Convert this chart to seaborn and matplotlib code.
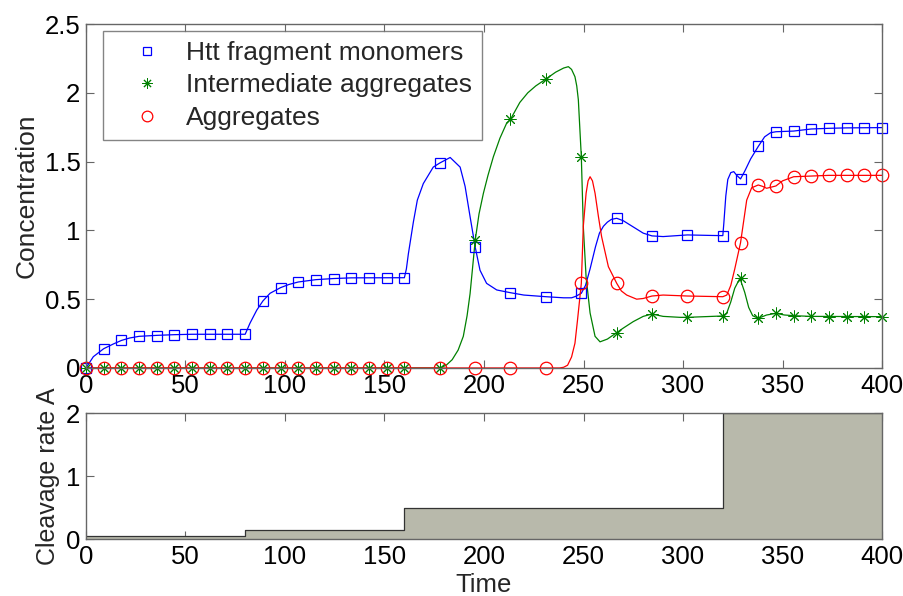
import numpy as np
import matplotlib
matplotlib.use("Agg")
import matplotlib.pyplot as plt
import seaborn as sns

# --- marker samples (solver output points) ---
t_marks = [0, 8.9, 17.8, 26.7, 35.6, 44.4, 53.3, 62.2, 71.1, 80,
           88.9, 97.8, 106.7, 115.6, 124.4, 133.3, 142.2, 151.1, 160,
           177.8, 195.6, 213.3, 231.1, 248.9, 266.7, 284.4, 302.2, 320,
           328.9, 337.8, 346.7, 355.6, 364.4, 373.3, 382.2, 391.1, 400]
mono_marks = [0.0, 0.14, 0.20, 0.23, 0.235, 0.24, 0.245, 0.245, 0.245, 0.245,
              0.487, 0.584, 0.625, 0.642, 0.65, 0.655, 0.656, 0.656, 0.656,
              1.49, 0.877, 0.547, 0.518, 0.543, 1.088, 0.96, 0.967, 0.962,
              1.374, 1.61, 1.717, 1.722, 1.737, 1.742, 1.745, 1.747, 1.747]
inter_marks = [0] * 20 + [0.93, 1.807, 2.10, 1.535, 0.257, 0.392, 0.368, 0.378,
                          0.652, 0.361, 0.397, 0.38, 0.375, 0.373, 0.373, 0.373, 0.373]
aggr_marks = [0] * 23 + [0.615, 0.615, 0.523, 0.523, 0.518,
                         0.91, 1.33, 1.323, 1.39, 1.395, 1.40, 1.40, 1.40, 1.40]

# --- smooth curves ---
mono_t = [0, 3.7, 8.9, 13.7, 17.8, 22, 26.7, 35.6, 44.4, 53.3, 80, 82.4, 85.8, 88.9, 92.5,
          97.8, 102, 106.7, 115.6, 124.4, 133.3, 160, 161, 162, 164.5, 166.5, 169.5, 174.5,
          177.8, 183, 188, 190.5, 193, 195.6, 198, 201.3, 206.4, 213.3, 220, 231.1, 240, 244,
          246, 248.9, 251, 253.3, 256, 258, 260, 262, 264, 266.7, 270, 275, 280, 284.4, 290,
          302.2, 315, 320, 320.5, 321.5, 322.5, 324, 325.5, 327, 328.9, 331, 334, 337.8, 341,
          344, 346.7, 355.6, 364.4, 373.3, 382.2, 400]
mono_v = [0, 0.082, 0.14, 0.174, 0.20, 0.218, 0.23, 0.237, 0.242, 0.245, 0.245, 0.325, 0.42,
          0.487, 0.543, 0.584, 0.607, 0.625, 0.642, 0.65, 0.655, 0.656, 0.72, 0.83, 1.06, 1.22,
          1.34, 1.46, 1.49, 1.53, 1.46, 1.32, 1.10, 0.877, 0.71, 0.615, 0.567, 0.547, 0.53,
          0.518, 0.51, 0.51, 0.52, 0.543, 0.6, 0.72, 0.88, 0.98, 1.03, 1.06, 1.08, 1.088, 1.07,
          1.025, 0.98, 0.96, 0.955, 0.967, 0.963, 0.962, 1.05, 1.25, 1.37, 1.42, 1.427, 1.40,
          1.374, 1.43, 1.52, 1.61, 1.68, 1.71, 1.717, 1.722, 1.737, 1.742, 1.745, 1.747]

inter_t = [0, 177.8, 181, 184, 187, 189.6, 191.5, 193, 195.6, 197.5, 199.7, 202, 204.7, 208,
           211.4, 213.3, 218, 222, 226, 231.1, 236, 240, 242.4, 244, 245.7, 246.6, 247.4,
           248.9, 249.9, 251.3, 253.3, 255.8, 258.3, 262, 266.7, 270, 275, 280, 284.4, 290,
           298.5, 302.2, 320, 322, 324, 326, 328.6, 331, 333, 335, 337.8, 342, 346.7, 351,
           355.6, 364.4, 400]
inter_v = [0, 0, 0.02, 0.06, 0.13, 0.23, 0.38, 0.54, 0.93, 1.12, 1.27, 1.40, 1.535, 1.67,
           1.78, 1.807, 1.93, 2.0, 2.05, 2.10, 2.15, 2.18, 2.19, 2.17, 2.117, 2.05, 1.95,
           1.535, 1.027, 0.66, 0.40, 0.23, 0.19, 0.21, 0.257, 0.29, 0.337, 0.375, 0.392, 0.375,
           0.368, 0.368, 0.378, 0.40, 0.48, 0.58, 0.652, 0.55, 0.44, 0.38, 0.361, 0.385, 0.397,
           0.385, 0.38, 0.375, 0.373]

aggr_t = [0, 238, 240, 242, 244, 245.7, 247, 248.9, 249.9, 251.3, 252.3, 253.3, 254.5, 255.8,
          257.5, 259.1, 262.5, 266.7, 269, 271.7, 276.7, 280, 284.4, 290, 302.2, 320, 322, 324,
          326, 328.9, 331, 332, 334.5, 337.8, 340, 342, 346.7, 350, 355.6, 364.4, 373.3, 400]
aggr_v = [0, 0, 0.005, 0.02, 0.08, 0.18, 0.35, 0.615, 1.03, 1.27, 1.36, 1.39, 1.36, 1.27,
          1.10, 0.954, 0.736, 0.615, 0.56, 0.53, 0.50, 0.505, 0.523, 0.53, 0.523, 0.518, 0.53,
          0.6, 0.72, 0.91, 1.12, 1.22, 1.31, 1.33, 1.32, 1.306, 1.323, 1.36, 1.39, 1.395, 1.40,
          1.40]

# --- cleavage rate (step input) ---
rate_t = [0, 80, 160, 320, 400]
rate_v = [0.05, 0.15, 0.5, 2, 2]

sns.set_style("ticks")
plt.rcParams['font.family'] = ['Liberation Sans', 'DejaVu Sans']
FS = 18.5
EDGE = '#666666'

fig = plt.figure(figsize=(9.04, 5.96), dpi=100)
ax1 = fig.add_axes([0.0951, 0.3826, 0.8806, 0.5771])
ax2 = fig.add_axes([0.0951, 0.0956, 0.8806, 0.2114])

series = [
    (mono_t, mono_v, mono_marks, 'blue', 's', 7.5, 0.9, 'Htt fragment monomers'),
    (inter_t, inter_v, inter_marks, 'green', (8, 2, 0), 8.5, 0.7, 'Intermediate aggregates'),
    (aggr_t, aggr_v, aggr_marks, 'red', 'o', 9, 0.9, 'Aggregates'),
]

# curves first (no legend entries)
for ct, cv, mk, col, m, ms, mew, lab in series:
    sns.lineplot(x=ct, y=cv, ax=ax1, color=col, lw=0.9, legend=False)

# markers with legend
for ct, cv, mk, col, m, ms, mew, lab in series:
    sns.lineplot(x=t_marks, y=mk, ax=ax1, color=col, linestyle='', marker=m,
                 markersize=ms, markerfacecolor='none', markeredgecolor=col,
                 markeredgewidth=mew, label=lab, clip_on=False)

ax1.set_xlim(0, 400)
ax1.set_ylim(0, 2.5)
ax1.set_xticks(np.arange(0, 401, 50))
ax1.set_yticks([0, 0.5, 1, 1.5, 2, 2.5])
ax1.set_yticklabels(['0', '0.5', '1', '1.5', '2', '2.5'])
ax1.set_ylabel('Concentration', fontsize=19, labelpad=4)
ax1.set_xlabel('')

leg = ax1.legend(loc='upper left', bbox_to_anchor=(0.0214, 0.98), borderaxespad=0,
                 fontsize=19, frameon=True, fancybox=False, handlelength=2.6,
                 handletextpad=0.15, labelspacing=0.32, borderpad=0.38, markerscale=0.85)
leg.get_frame().set_edgecolor(EDGE)
leg.get_frame().set_linewidth(1.0)

# cleavage rate panel
ax2.fill_between(rate_t, rate_v, step='post', color='#b8b9ab', lw=0)
sns.lineplot(x=rate_t, y=rate_v, ax=ax2, color='#333333', lw=0.9, drawstyle='steps-post')
ax2.set_xlim(0, 400)
ax2.set_ylim(0, 2)
ax2.set_xticks(np.arange(0, 401, 50))
ax2.set_yticks([0, 1, 2])
ax2.set_xlabel('Time', fontsize=FS, labelpad=3)
ax2.set_ylabel('Cleavage rate A', fontsize=18, labelpad=4)

for ax in (ax1, ax2):
    for s in ax.spines.values():
        s.set_visible(True)
        s.set_color(EDGE)
        s.set_linewidth(1.0)
    ax.tick_params(direction='in', length=6, width=0.8, color=EDGE, labelsize=FS,
                   top=True, right=True, labelcolor='black', pad=4)
    ax.grid(False)

fig.savefig('out.png', dpi=100)
